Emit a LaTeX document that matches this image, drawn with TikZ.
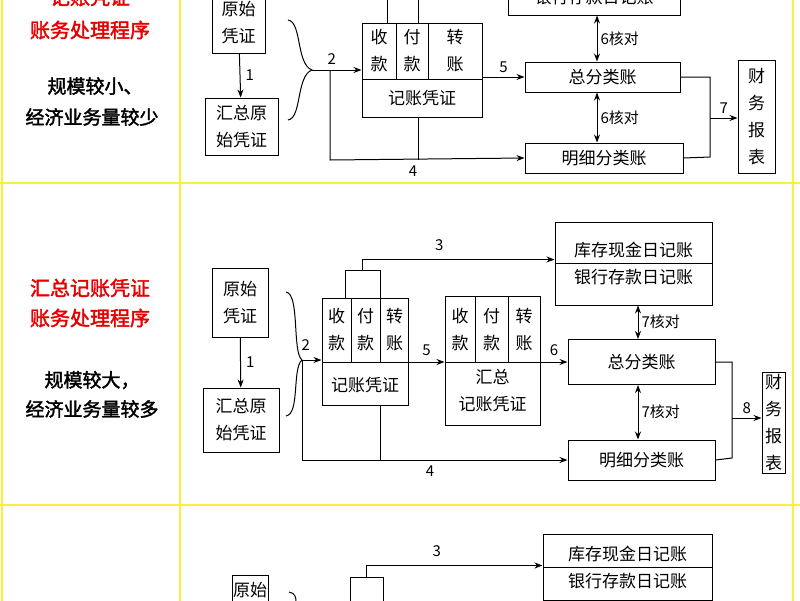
\documentclass[tikz,border=0pt]{standalone}
\usepackage{fontspec}
\setmainfont{Noto Sans CJK SC}[AutoFakeBold=2]
\usetikzlibrary{arrows.meta}
\definecolor{ylw}{RGB}{250,240,60}
\definecolor{redt}{RGB}{230,0,0}
\begin{document}
\begin{tikzpicture}[x=1pt,y=-1pt,
  box/.style={draw,line width=1pt,inner sep=0pt,align=center,font=\fontsize{17}{27}\selectfont},
  txt/.style={inner sep=0pt,align=center,font=\fontsize{17}{27}\selectfont},
  lbl/.style={inner sep=0pt,font=\fontsize{15}{17}\selectfont},
  ln/.style={line width=1pt},
  arr/.style={line width=1pt,-{Stealth[length=8pt,width=6pt]}},
  dar/.style={line width=1pt,{Stealth[length=8pt,width=6pt]}-{Stealth[length=8pt,width=6pt]}},
  redh/.style={inner sep=0pt,align=center,text=redt,font=\fontsize{20}{30}\selectfont\bfseries},
  blkh/.style={inner sep=0pt,align=center,font=\fontsize{19}{28}\selectfont\bfseries}]
\useasboundingbox (0,0) rectangle (800,600);
\fill[white] (0,0) rectangle (800,600);
\begin{scope}
\clip (0,0) rectangle (800,600);
% grid
\draw[ylw,line width=2.5pt] (2,-5) -- (2,605) (180,-5) -- (180,605) (793,-5) -- (793,605)
  (0,183) -- (800,183) (0,505) -- (800,505);
% left column
\node[redh] (r1a) at (90,-3) {记账凭证};
\node[redh] (r1b) at (90,30) {账务处理程序};
\node[blkh] (r1c) at (95,86) {规模较小、};
\node[blkh] (r1d) at (92,117) {经济业务量较少};
\node[redh] (r2a) at (90,288) {汇总记账凭证};
\node[redh] (r2b) at (90,318) {账务处理程序};
\node[blkh] (r2c) at (92,380) {规模较大，};
\node[blkh] (r2d) at (92,409) {经济业务量较多};

% ===== Row 1 =====
\node[box,minimum width=53,minimum height=60] (ys1) at (238.5,23) {原始\\凭证};
\node[box,minimum width=73,minimum height=57] (hz1) at (241.5,126.5) {汇总原\\始凭证};
\draw[arr] (ys1) -- (hz1) node[lbl,midway,right=5pt] {1};
\coordinate (b1) at (312,70);
\draw[ln] (288,20) .. controls (302,22) and (296,64) .. (b1) .. controls (296,76) and (302,118) .. (288,120);
\node[box,minimum width=120,minimum height=94] (jz1) at (422,70) {};
\draw[ln] (396,23) -- (396,79) (428,23) -- (428,79) (362,79) -- (482,79);
\node[txt] (t11) at (379,51) {收\\款};
\node[txt] (t12) at (412,51) {付\\款};
\node[txt] (t13) at (455,51) {转\\账};
\node[txt] (t14) at (422,98) {记账凭证};
\draw[ln] (387,23) -- (387,-5) (418,23) -- (418,-5);
\draw[arr] (b1) -- (jz1.west |- b1) node[lbl,pos=0.4,above=5pt] {2};
\node[box,minimum width=172,minimum height=35] (yh1) at (594,-2.5) {银行存款日记账};
\node[box,minimum width=155,minimum height=30] (zf1) at (602.5,77) {总分类账};
\node[box,minimum width=158,minimum height=30] (mx1) at (604,158) {明细分类账};
\node[box,minimum width=37,minimum height=113] (cw1) at (756.5,116.5) {财\\务\\报\\表};
\draw[arr] (jz1.east |- zf1.west) -- (zf1.west) node[lbl,midway,above=4pt] {5};
\draw[dar] (yh1.south -| 597,0) -- (zf1.north -| 597,0) node[lbl,midway,right=3pt] {6核对};
\draw[dar] (zf1.south -| 597,0) -- (mx1.north -| 597,0) node[lbl,midway,right=3pt] {6核对};
\coordinate (c1) at (330,160);
\draw[arr] (b1 -| 330,0) -- (c1) -- (mx1.west);
\draw[ln] (jz1.south -| 418,0) -- (418,160);
\node[lbl] (l4a) at (413,171) {4};
\coordinate (m1) at (710,118);
\draw[ln] (zf1.east) -- (710,77) -- (m1) -- (710,157) -- (mx1.east);
\draw[arr] (m1) -- (cw1.west |- m1) node[lbl,midway,above=4pt] {7};

% ===== Row 2 =====
\node[box,minimum width=56,minimum height=69] (ys2) at (240,302.5) {原始\\凭证};
\node[box,minimum width=76,minimum height=64] (hz2) at (241,420) {汇总原\\始凭证};
\draw[arr] (ys2) -- (hz2) node[lbl,midway,right=5pt] {1};
\coordinate (b2) at (302,360);
\draw[ln] (286,292) .. controls (300,294) and (292,352) .. (b2) .. controls (292,368) and (300,414) .. (286,416);
\node[box,minimum width=86,minimum height=107] (jz2) at (365,351.5) {};
\draw[ln] (351,298) -- (351,362) (380,298) -- (380,362) (322,362) -- (408,362);
\node[txt] (t21) at (336.5,330) {收\\款};
\node[txt] (t22) at (365.5,330) {付\\款};
\node[txt] (t23) at (394.5,330) {转\\账};
\node[txt] (t24) at (365,385) {记账凭证};
\node[box,minimum width=35,minimum height=28] (sb2) at (362.5,284) {};
\draw[arr] (b2) -- (jz2.west |- b2) node[lbl,pos=0.2,above=9pt] {2};
\node[box,minimum width=95,minimum height=129] (hs2) at (492.5,360.5) {};
\draw[ln] (475,296) -- (475,362) (508,296) -- (508,362) (445,362) -- (540,362);
\node[txt] (t25) at (460,330) {收\\款};
\node[txt] (t26) at (491.5,330) {付\\款};
\node[txt] (t27) at (524,330) {转\\账};
\node[txt] (t28) at (492.5,391) {汇总\\记账凭证};
\node[box,minimum width=157,minimum height=83] (kc2) at (633.5,263.5) {库存现金日记账\\银行存款日记账};
\draw[ln] (555,263.5) -- (712,263.5);
\node[box,minimum width=147,minimum height=45] (zf2) at (641.5,362) {总分类账};
\node[box,minimum width=147,minimum height=40] (mx2) at (641.5,460) {明细分类账};
\node[box,minimum width=23,minimum height=101] (cw2) at (773.5,422.5) {财\\务\\报\\表};
\draw[arr] (sb2.north) |- ([yshift=4pt]kc2.west) node[lbl,pos=0.7,above=8pt] {3};
\draw[arr] (jz2.east |- zf2.west) -- (hs2.west |- zf2.west) node[lbl,midway,above=6pt] {5};
\draw[arr] (hs2.east |- zf2.west) -- (zf2.west) node[lbl,midway,above=6pt] {6};
\draw[dar] (kc2.south -| 638,0) -- (zf2.north -| 638,0) node[lbl,midway,right=3pt] {7核对};
\draw[dar] (zf2.south -| 638,0) -- (mx2.north -| 638,0) node[lbl,midway,right=3pt] {7核对};
\coordinate (c2) at (302,460);
\draw[arr] (b2) -- (c2) -- (mx2.west);
\draw[ln] (jz2.south -| 380,0) -- (380,460);
\node[lbl] (l4b) at (430,471) {4};
\coordinate (m2) at (732,418);
\draw[ln] (zf2.east) -- (732,362) -- (m2) -- (732,458) -- (mx2.east);
\draw[arr] (m2) -- (cw2.west |- m2) node[lbl,midway,above=4pt] {8};

% ===== Row 3 =====
\node[box,minimum width=36,minimum height=50] (ys3) at (250,600) {};
\node[txt] (t31) at (250,590) {原始};
\node[box,minimum width=33,minimum height=40] (sb3) at (366.5,597) {};
\node[box,minimum width=169,minimum height=66] (kc3) at (627.5,567.5) {库存现金日记账\\银行存款日记账};
\draw[ln] (543,567) -- (712,567);
\draw[arr] (sb3.north) |- ([yshift=2pt]kc3.west) node[lbl,pos=0.7,above=8pt] {3};
\draw[ln] (289,592) .. controls (295,593) and (296,597) .. (296,602);
\end{scope}
\end{tikzpicture}
\end{document}
